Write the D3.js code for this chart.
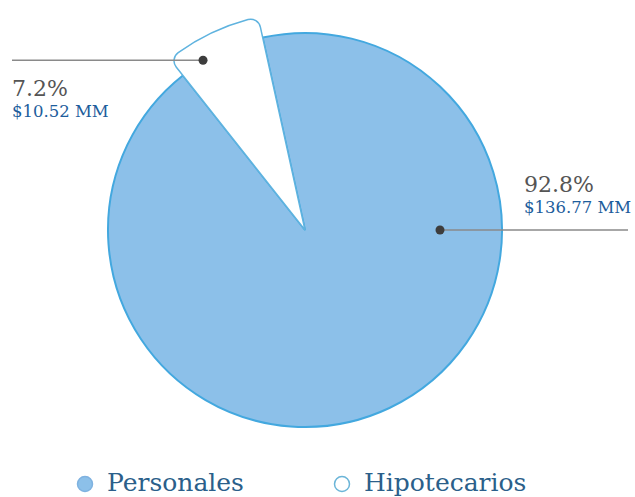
<!DOCTYPE html>
<html>
<head>
<meta charset="utf-8">
<script src="https://cdn.jsdelivr.net/npm/d3@7"></script>
<style>
  html, body { margin: 0; padding: 0; background: #ffffff; }
  svg { display: block; }
</style>
</head>
<body>
<svg id="chart" width="635" height="497"></svg>
<script>
// Loan portfolio split
const categories = ["Personales", "Hipotecarios"];
const shares = [92.8, 7.2];               // percent of portfolio
const amounts = ["$136.77 MM", "$10.52 MM"];
const shareLabels = ["92.8%", "7.2%"];

const W = 635, H = 497;
const cx = 305, cy = 230;
const R = 197;          // main pie radius
const Rpop = 218;       // highlighted slice radius
const deg = Math.PI / 180;

const fills = ["#8cc0e9", "#ffffff"];
const strokes = ["#43a8df", "#5fb3df"];

const svg = d3.select("#chart");
const g = svg.append("g").attr("transform", `translate(${cx},${cy})`);

const pie = d3.pie()
  .sort(null)
  .value(d => d)
  .startAngle(-12.4 * deg)
  .endAngle(347.6 * deg);

const arcs = pie(shares);

const arcMain = d3.arc().innerRadius(0).outerRadius(R);
const arcPop = d3.arc().innerRadius(0).outerRadius(Rpop).cornerRadius(10);

// Personales
g.append("path")
  .attr("d", arcMain(arcs[0]))
  .attr("fill", fills[0])
  .attr("stroke", strokes[0])
  .attr("stroke-width", 2);

// Hipotecarios, pulled out to a larger radius
g.append("path")
  .attr("d", arcPop(arcs[1]))
  .attr("fill", fills[1])
  .attr("stroke", strokes[1])
  .attr("stroke-width", 1.5)
  .attr("stroke-linejoin", "round");

// Leader lines with dots
function polar(r, a) { return [cx + r * Math.sin(a * deg), cy - r * Math.cos(a * deg)]; }

const leaders = [
  { dot: polar(135, 90), x2: 628, tx: 524, ty: 192 },
  { dot: polar(198, -31), x2: 12, tx: 12, ty: 96 }
];

leaders.forEach((l, i) => {
  svg.append("line")
    .attr("x1", l.dot[0]).attr("y1", l.dot[1])
    .attr("x2", l.x2).attr("y2", l.dot[1])
    .attr("stroke", "#8a8a8a")
    .attr("stroke-width", 1.4);
  svg.append("circle")
    .attr("cx", l.dot[0]).attr("cy", l.dot[1])
    .attr("r", 4.5)
    .attr("fill", "#3d3d3d");
  svg.append("text")
    .attr("x", l.tx).attr("y", l.ty)
    .attr("font-family", "'DejaVu Serif', serif")
    .attr("font-size", 22)
    .attr("fill", "#555555")
    .text(shareLabels[i]);
  svg.append("text")
    .attr("x", l.tx).attr("y", l.ty + 21)
    .attr("font-family", "'DejaVu Serif', serif")
    .attr("font-size", 16.5)
    .attr("fill", "#1d5d9c")
    .text(amounts[i]);
});

// Legend
const legendX = [85, 342];
categories.forEach((c, i) => {
  svg.append("circle")
    .attr("cx", legendX[i]).attr("cy", 484)
    .attr("r", 7.5)
    .attr("fill", fills[i])
    .attr("stroke", i === 0 ? "#7fb2e0" : "#6bb5d8")
    .attr("stroke-width", 1.5);
  svg.append("text")
    .attr("x", legendX[i] + 22).attr("y", 491)
    .attr("font-family", "'DejaVu Serif', serif")
    .attr("font-size", 25)
    .attr("fill", "#2b5f8a")
    .text(c);
});
</script>
</body>
</html>
